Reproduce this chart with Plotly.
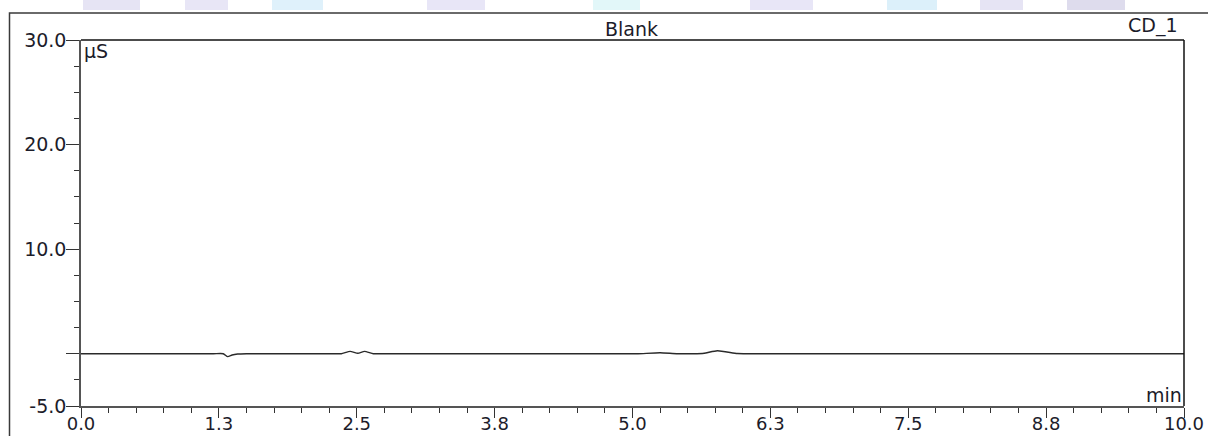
import plotly.graph_objects as go

# ---- data ----
time_min = [0.0, 1.20, 1.29, 1.33, 1.37, 1.42, 1.50, 1.60,
            2.28, 2.36, 2.44, 2.51, 2.57, 2.65, 2.75,
            4.95, 5.05, 5.25, 5.40, 5.55, 5.65, 5.77, 5.95, 6.05, 6.15, 10.0]
signal_uS = [0.0, 0.0, 0.0, -0.28, -0.12, -0.03, 0.0, 0.0,
             0.0, 0.0, 0.22, 0.04, 0.22, 0.0, 0.0,
             0.0, 0.0, 0.09, 0.0, 0.0, 0.05, 0.28, 0.02, 0.0, 0.0, 0.0]

x_tickvals = [0.0, 1.25, 2.5, 3.75, 5.0, 6.25, 7.5, 8.75, 10.0]
x_ticktext = ["0.0", "1.3", "2.5", "3.8", "5.0", "6.3", "7.5", "8.8", "10.0"]
y_tickvals = [30, 20, 10, 0, -5]
y_ticktext = ["30.0", "20.0", "10.0", "", "-5.0"]

title_text = "Blank"
channel_text = "CD_1"
y_unit = "µS"
x_unit = "min"

# ---- layout geometry (pixels) ----
W, H = 1208, 436
L, R, T, B = 81, 1184, 40, 406


def px(xp):
    return (xp - L) / (R - L)


def py(yp):
    return (B - yp) / (B - T)


FONT = "DejaVu Sans"
TXT = "#1c1c2a"
AX = "#555555"

fig = go.Figure()
fig.add_trace(go.Scatter(
    x=time_min, y=signal_uS, mode="lines",
    line=dict(color="#2a2a2a", width=1.4, shape="spline", smoothing=0.5),
    hoverinfo="skip", showlegend=False,
))

fig.update_xaxes(
    range=[0, 10], showgrid=False, zeroline=False, automargin=False,
    showline=True, linecolor=AX, linewidth=1.5,
    ticks="outside", ticklen=10, tickwidth=1.3, tickcolor="#333333",
    tickmode="array", tickvals=x_tickvals, ticktext=x_ticktext,
    ticklabelstandoff=-9,
    tickfont=dict(family=FONT, size=18, color=TXT),
    minor=dict(tickmode="linear", tick0=0, dtick=0.25, ticks="outside",
               ticklen=5, tickwidth=1.2, tickcolor="#333333", showgrid=False),
)
fig.update_yaxes(
    range=[-5, 30], showgrid=False, zeroline=False, automargin=False,
    showline=True, linecolor=AX, linewidth=1.5,
    ticks="outside", ticklen=13, tickwidth=1.3, tickcolor="#333333",
    tickmode="array", tickvals=y_tickvals, ticktext=y_ticktext,
    ticklabelstandoff=-4,
    tickfont=dict(family=FONT, size=19, color=TXT),
    minor=dict(tickmode="linear", tick0=0, dtick=2.5, ticks="outside",
               ticklen=5, tickwidth=1.2, tickcolor="#333333", showgrid=False),
)

shapes = []
# faint watermark blocks along the top edge
blocks = [(83, 140, "#e6e4f4"), (185, 228, "#e8e6f6"), (272, 323, "#dff1fb"),
          (427, 485, "#e8e6f7"), (593, 640, "#e2f7f9"), (750, 813, "#e8e6f7"),
          (887, 937, "#dcf0fa"), (980, 1023, "#e6e4f4"), (1067, 1125, "#dedced")]
for x0, x1, c in blocks:
    shapes.append(dict(type="rect", xref="paper", yref="paper",
                       x0=px(x0), x1=px(x1), y0=py(10), y1=py(0),
                       fillcolor=c, line=dict(width=0), layer="below"))
# outer frame (left + top)
shapes.append(dict(type="path", xref="paper", yref="paper",
                   path=f"M {px(9.5)},{py(440)} L {px(9.5)},{py(13)} L {px(1215)},{py(13)}",
                   line=dict(color="#3a3a3a", width=1.5)))
# plot box top and right edges
shapes.append(dict(type="line", xref="paper", yref="paper", x0=0, x1=1, y0=1, y1=1,
                   line=dict(color="#111111", width=1.5)))
shapes.append(dict(type="line", xref="paper", yref="paper", x0=1, x1=1, y0=0, y1=1,
                   line=dict(color="#111111", width=1.5)))

annotations = [
    dict(text=title_text, xref="paper", yref="paper", x=px(631), y=py(29),
         xanchor="center", yanchor="middle", showarrow=False,
         font=dict(family=FONT, size=19, color=TXT)),
    dict(text=channel_text, xref="paper", yref="paper", x=px(1180), y=py(26),
         xanchor="right", yanchor="middle", showarrow=False,
         font=dict(family=FONT, size=19, color=TXT)),
    dict(text=y_unit, xref="paper", yref="paper", x=px(82), y=py(51),
         xanchor="left", yanchor="middle", showarrow=False,
         font=dict(family=FONT, size=19, color=TXT)),
    dict(text=x_unit, xref="paper", yref="paper", x=px(1184), y=py(395),
         xanchor="right", yanchor="middle", showarrow=False,
         font=dict(family=FONT, size=19, color=TXT)),
]

fig.update_layout(
    width=W, height=H,
    margin=dict(l=L, r=W - R, t=T, b=H - B, pad=0, autoexpand=False),
    paper_bgcolor="white", plot_bgcolor="white",
    shapes=shapes, annotations=annotations,
    showlegend=False,
)

fig.write_html(
    "out.html",
    config={"displayModeBar": False},
    post_script="document.body.style.margin='0';document.body.style.overflow='hidden';",
)
